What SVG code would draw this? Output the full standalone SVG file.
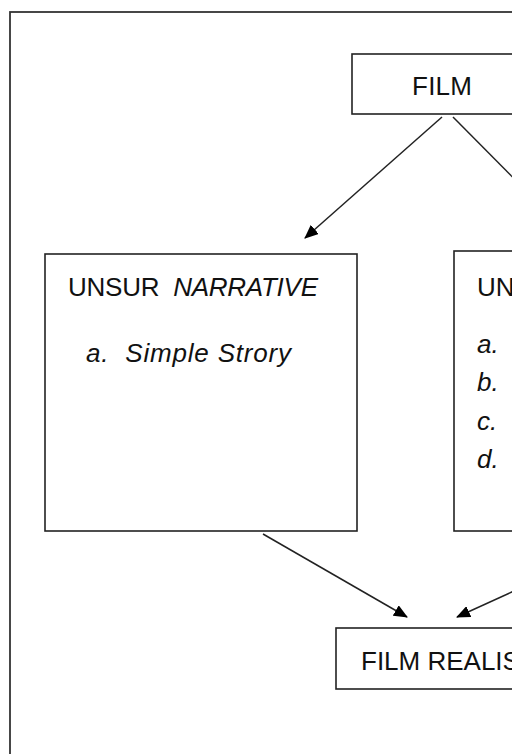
<svg xmlns="http://www.w3.org/2000/svg" width="512" height="754" viewBox="0 0 512 754">
<style>
.box{fill:#fff;stroke:#222;stroke-width:1.6}
.frame{fill:#fff;stroke:#333;stroke-width:1.8}
.t{font-family:"Liberation Sans",Arial,sans-serif;font-size:26px;fill:#111}
.i{font-style:italic}
.c{stroke:#222;stroke-width:1.5;fill:none}
</style>
<defs>
<marker id="ah" markerWidth="14" markerHeight="12" refX="13" refY="6" orient="auto" markerUnits="userSpaceOnUse">
<path d="M0,0 L14,6 L0,12 Z" fill="#000"/>
</marker>
</defs>
<rect width="512" height="754" fill="#fff"/>
<rect class="frame" x="10" y="12" width="620" height="800"/>
<g id="connectors">
<line class="c" x1="442" y1="117" x2="305" y2="238" marker-end="url(#ah)"/>
<line class="c" x1="453" y1="117" x2="560" y2="225"/>
<line class="c" x1="263" y1="534" x2="407" y2="617" marker-end="url(#ah)"/>
<line class="c" x1="560" y1="570" x2="457" y2="617" marker-end="url(#ah)"/>
</g>
<g id="film">
<rect class="box" x="352" y="54" width="220" height="60"/>
<text class="t" x="412" y="95" textLength="60" lengthAdjust="spacing">FILM</text>
</g>
<g id="narrative">
<rect class="box" x="45" y="254" width="312" height="277"/>
<text class="t" x="68" y="296" xml:space="preserve" textLength="250" lengthAdjust="spacing">UNSUR  <tspan class="i">NARRATIVE</tspan></text>
<text class="t i" x="86" y="362" xml:space="preserve" textLength="205" lengthAdjust="spacing">a.  Simple Strory</text>
</g>
<g id="sinematik">
<rect class="box" x="454" y="251" width="200" height="280"/>
<text class="t" x="477" y="296">UN</text>
<text class="t i" x="477" y="353">a.</text>
<text class="t i" x="477" y="391">b.</text>
<text class="t i" x="477" y="430">c.</text>
<text class="t i" x="477" y="468">d.</text>
</g>
<g id="realis">
<rect class="box" x="336" y="628" width="260" height="61"/>
<text class="t" x="361" y="670">FILM REALIS</text>
</g>
</svg>
